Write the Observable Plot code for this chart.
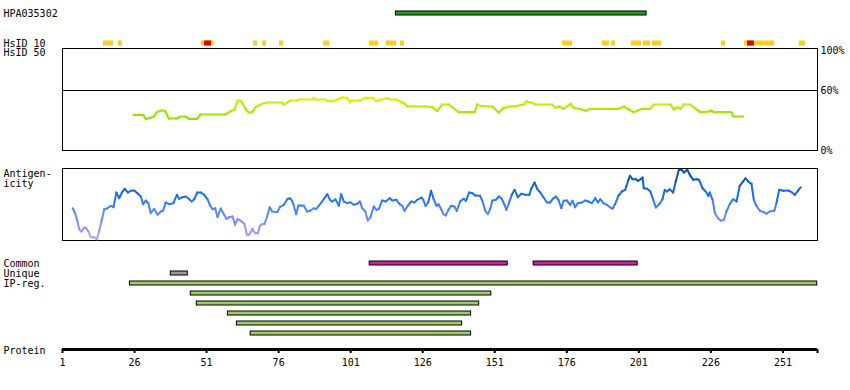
<!DOCTYPE html>
<html>
<head>
<meta charset="utf-8">
<script src="https://cdn.jsdelivr.net/npm/d3@7"></script>
<script src="https://cdn.jsdelivr.net/npm/@observablehq/plot@0.6"></script>
<style>
  body { margin: 0; background: #fff; }
  #chart { position: relative; width: 850px; height: 390px; background: #fff; font-family: "DejaVu Sans Mono", monospace; }
  #chart > div { position: absolute; left: 0; }
  #chart svg { display: block; }
</style>
</head>
<body>
<div id="chart"></div>
<script>
// ---------------- data ----------------
const proteinLength = 263;
const axisTicks = [1, 26, 51, 76, 101, 126, 151, 176, 201, 226, 251, 263];
const axisLabels = [1, 26, 51, 76, 101, 126, 151, 176, 201, 226, 251];

const antigenName = "HPA035302";
const antigenRange = [116.7, 203.7];

// HsID 10 identity hits (yellow) and strongest hits (red)
const hsid10Start = [15.2, 20.4, 49.2, 67.3, 70.4, 76.3, 91.6, 107.5, 113.4, 118.3, 174.5, 188.4, 191.5, 198.4, 202.6, 205.7, 229.7, 237.7, 256.7];
const hsid10End   = [18.7, 21.8, 53.6, 68.7, 71.8, 77.7, 93.7, 110.7, 116.9, 119.7, 178.0, 190.8, 192.9, 201.9, 205.0, 208.9, 231.1, 248.1, 258.8];
const hsid10RedStart = [50.3, 238.7];
const hsid10RedEnd   = [52.7, 241.1];

// HsID 50 identity curve (%)
const identityPos = [25.6, 29.0, 30.0, 32.7, 33.9, 35.4, 36.7, 37.9, 40.8, 41.9, 43.7, 44.8, 47.7, 48.9, 57.6, 59.3, 60.7, 61.8, 63.0, 64.5, 65.6, 66.8, 68.0, 70.3, 72.0, 77.2, 77.8, 79.0, 80.1, 82.4, 83.0, 87.6, 88.2, 88.8, 92.3, 92.9, 95.1, 96.3, 98.1, 99.8, 100.7, 101.5, 104.4, 106.1, 108.8, 109.9, 111.4, 113.7, 114.8, 116.6, 117.7, 119.4, 120.8, 127.0, 129.3, 131.0, 132.8, 135.1, 138.5, 144.1, 144.9, 146.6, 150.1, 152.4, 154.1, 156.5, 158.2, 161.1, 162.0, 164.0, 165.1, 170.9, 172.1, 173.2, 175.0, 177.3, 178.4, 181.3, 182.5, 184.2, 194.0, 195.8, 197.5, 199.2, 202.2, 205.0, 206.2, 212.0, 213.2, 214.3, 215.5, 216.6, 218.9, 220.7, 222.4, 225.3, 226.2, 227.0, 233.1, 233.9, 237.2];
const identityPct = [35.7, 35.7, 31.3, 34, 38.7, 40, 39.3, 32, 32, 34, 34, 31.7, 31.7, 36, 36, 39.3, 40.7, 50, 49.3, 41.7, 38, 38.3, 43.3, 46.7, 48, 48, 46, 48, 50, 50, 51, 51, 52.7, 51, 51, 49.3, 49.3, 51, 53, 52.7, 48.3, 50, 50, 52.7, 52.7, 49.3, 51, 52.3, 51, 51, 49.7, 47.3, 44, 44, 43.3, 39.3, 46, 46, 38.3, 38.3, 46, 44.3, 44, 37.7, 42.7, 44, 44.3, 46, 49.3, 47.7, 46, 46, 42.7, 44, 41.7, 46.7, 42.7, 41, 39.7, 41.7, 41.7, 44, 41, 38.3, 41.7, 41.7, 46, 46, 41, 43.3, 41.7, 46, 46, 41.7, 38.3, 39, 40, 38.3, 38.3, 34, 34];

// Antigenicity profile (arbitrary units)
const antigenPos = [4.5, 5.4, 6.2, 6.8, 7.6, 8.5, 9.3, 10.0, 10.8, 12.0, 12.9, 13.7, 14.5, 15.5, 16.6, 17.8, 18.7, 19.7, 20.7, 21.6, 22.6, 23.7, 24.7, 25.9, 27.0, 28.2, 29.0, 29.9, 30.8, 31.6, 32.8, 34.0, 35.1, 35.9, 36.8, 38.0, 39.5, 40.7, 41.5, 42.6, 43.8, 45.0, 45.8, 46.7, 47.8, 49.0, 50.2, 51.3, 52.3, 53.1, 54.0, 54.8, 55.9, 57.1, 57.9, 58.8, 60.0, 60.9, 61.7, 62.9, 64.1, 65.0, 65.8, 66.9, 67.2, 68.0, 68.8, 69.5, 70.3, 71.1, 72.0, 72.9, 73.8, 75.5, 76.4, 77.8, 79.0, 79.9, 80.7, 81.3, 82.1, 82.8, 83.6, 84.7, 85.9, 87.1, 88.2, 89.0, 89.9, 91.1, 91.9, 92.9, 93.8, 94.6, 95.7, 96.9, 97.7, 98.6, 99.8, 100.9, 102.1, 103.3, 104.2, 105.0, 106.1, 106.9, 107.9, 109.0, 110.0, 110.8, 111.9, 113.1, 114.6, 115.4, 116.9, 118.0, 118.9, 119.7, 120.8, 122.0, 123.1, 124.1, 125.5, 126.2, 127.0, 127.9, 128.9, 129.8, 130.8, 131.5, 132.4, 133.2, 134.0, 134.9, 135.9, 137.0, 137.8, 139.0, 140.2, 141.0, 142.1, 143.3, 144.2, 145.9, 146.7, 147.7, 148.6, 149.4, 150.2, 151.4, 152.5, 153.4, 154.4, 155.0, 156.0, 156.9, 157.9, 159.0, 160.2, 161.6, 163.0, 163.6, 164.8, 165.8, 166.8, 167.9, 169.1, 170.2, 171.4, 172.2, 173.1, 174.1, 174.9, 176.0, 177.2, 178.0, 178.9, 179.8, 181.2, 182.4, 183.5, 184.7, 185.9, 186.8, 187.6, 188.7, 189.9, 191.1, 191.9, 192.8, 193.9, 195.1, 196.3, 196.7, 197.4, 197.9, 198.8, 199.9, 200.8, 201.6, 202.3, 202.7, 203.9, 205.0, 206.0, 206.9, 208.1, 209.2, 210.0, 210.8, 211.7, 212.9, 213.8, 214.9, 215.8, 216.7, 217.8, 218.9, 219.9, 221.0, 221.9, 223.1, 224.2, 225.1, 225.6, 226.6, 227.4, 228.5, 229.4, 230.5, 231.4, 232.6, 233.7, 234.9, 236.0, 237.2, 238.0, 238.9, 240.1, 240.9, 241.8, 243.0, 244.4, 245.3, 246.4, 248.0, 248.8, 249.7, 251.1, 252.8, 254.0, 255.1, 256.3, 257.2];
const antigenScore = [32.3, 27.3, 19, 11.3, 9, 13, 12, 9, 3.3, 3.3, 1.3, 9, 19, 31.3, 32.3, 34.7, 33.3, 48, 42.3, 48, 51.7, 48, 49.7, 50, 47.3, 44, 36.3, 40, 37.3, 27.3, 31.7, 25.7, 29, 29.7, 38, 36.3, 37.3, 45.7, 41.7, 43.3, 44, 41.3, 39, 41.3, 48, 48, 45.7, 41.3, 34.7, 31.3, 32.3, 23.3, 32, 25.7, 21.7, 23.3, 24, 15.7, 21.3, 19.7, 16.7, 5.7, 5.7, 11.7, 9.7, 7.3, 7.3, 14.7, 16.3, 16.7, 24, 33.3, 29, 28.3, 33.3, 35.7, 41.3, 42.3, 39.7, 34.7, 26.3, 34.7, 35, 34.7, 29, 30, 32.3, 31.3, 34.7, 39, 42.3, 46.3, 40.7, 39, 41.3, 34.7, 46.3, 39, 37.3, 38.3, 35.7, 36.7, 39, 32.3, 29, 20, 23.3, 34, 30.7, 31.7, 40, 39, 42.3, 40, 40.7, 36.3, 34.7, 29.7, 34.7, 39, 38, 40.7, 43, 40.7, 34.7, 38, 49.7, 41.3, 34.7, 36.3, 31.3, 26.3, 25, 30.7, 34.7, 34, 29.7, 39, 41.7, 39.7, 48, 47.3, 45, 44.7, 39.7, 29.7, 26.3, 31.3, 40, 40.7, 44, 41.7, 35.7, 30.7, 38, 45.7, 50.7, 43.3, 46.7, 45.7, 45.7, 51.3, 58, 51.3, 48, 43.3, 38, 38, 42.3, 44, 40.7, 32.3, 39.7, 40, 35.7, 39.7, 33.3, 37.3, 38, 40, 39, 37.3, 42.3, 38, 41.3, 37.3, 35.7, 33, 31.7, 36.7, 44.7, 49, 50.7, 54.7, 60.7, 64.7, 61.3, 61.3, 59.7, 61.3, 63, 52.3, 51.7, 49, 40.7, 33, 36.3, 41.3, 50.7, 49, 51.3, 48, 59, 70.7, 70.7, 68, 70.7, 64.7, 60.7, 61.3, 60.7, 52.3, 49, 44.7, 48, 40.7, 27.3, 22.3, 19.7, 20.7, 29, 36.7, 41.3, 39, 54.7, 59, 62.3, 59, 56.7, 40.7, 34.7, 29.7, 28.3, 26.7, 29, 29.7, 38, 50.7, 49.7, 50, 48.3, 45.7, 50, 53.3];

// Feature tracks
const featureRows  = ["Common", "Unique", "IP-reg.", "IP-reg. 2", "IP-reg. 3", "IP-reg. 4", "IP-reg. 5", "IP-reg. 6"];
const rowLabels    = ["Common", "Unique", "IP-reg."];
const commonStart  = [107.6, 164.5];
const commonEnd    = [155.5, 200.6];
const uniqueStart  = [38.6];
const uniqueEnd    = [44.5];
const ipRegStart   = [24.4, 45.5, 47.6, 58.4, 61.5, 66.3];
const ipRegEnd     = [262.9, 149.8, 145.6, 142.8, 139.7, 142.8];

// ---------------- helpers ----------------
const FONT = "DejaVu Sans Mono";
const base = {
  width: 850,
  marginLeft: 62,
  marginRight: 33,
  style: { fontFamily: FONT, fontSize: "10px", color: "black", background: "transparent", overflow: "visible" }
};
const xScale = { domain: [1, proteinLength], axis: null, label: null };

function segments(pos, val) {
  const out = [];
  for (let i = 1; i < pos.length; i++) {
    out.push({ x1: pos[i - 1], y1: val[i - 1], x2: pos[i], y2: val[i], v: (val[i - 1] + val[i]) / 2 });
  }
  return out;
}
function ranges(starts, ends, track) {
  return starts.map((s, i) => ({ start: s, end: ends[i], track: typeof track === "function" ? track(i) : track }));
}

const chart = document.getElementById("chart");
function place(svg, top) {
  const d = document.createElement("div");
  d.style.top = top + "px";
  d.appendChild(svg);
  chart.appendChild(d);
}

// ---------------- top tracks ----------------
place(Plot.plot({
  ...base,
  height: 48, marginTop: 0, marginBottom: 0,
  x: xScale,
  y: { type: "band", domain: [antigenName, "gap1", "gap2", "HsID 10"], range: [7.5, 47.5], padding: 0, axis: null },
  marks: [
    Plot.barX(ranges([antigenRange[0]], [antigenRange[1]], antigenName), { x1: "start", x2: "end", y: "track", fill: "#1f9e1f", stroke: "black", strokeWidth: 1, insetTop: 3, insetBottom: 3 }),
    Plot.barX(ranges(hsid10Start, hsid10End, "HsID 10"), { x1: "start", x2: "end", y: "track", fill: "#ffcc22", insetTop: 2.5, insetBottom: 2.5 }),
    Plot.barX(ranges(hsid10RedStart, hsid10RedEnd, "HsID 10"), { x1: "start", x2: "end", y: "track", fill: "#dd0000", insetTop: 2.5, insetBottom: 2.5 }),
    Plot.text([antigenName, "HsID 10"], { y: d => d, text: d => d, frameAnchor: "left", textAnchor: "start", lineAnchor: "middle", dx: -59, fill: "black" })
  ]
}), 0);

// ---------------- identity panel ----------------
place(Plot.plot({
  ...base,
  height: 120, marginTop: 8, marginBottom: 10,
  x: xScale,
  y: { domain: [0, 102], label: null, axis: null },
  color: { type: "linear", domain: [30, 45, 55], range: ["#8ae000", "#b6f000", "#f2f000"] },
  marks: [
    Plot.frame({ stroke: "black" }),
    Plot.ruleY([60], { stroke: "black" }),
    Plot.link(segments(identityPos, identityPct), { x1: "x1", y1: "y1", x2: "x2", y2: "y2", stroke: "v", strokeWidth: 2.2, strokeLinecap: "round" }),
    Plot.axisY({ anchor: "right", ticks: [0, 60, 100], tickSize: 0, tickPadding: 3, tickFormat: d => d + "%", label: null, fill: "black" }),
    Plot.text(["HsID 50"], { text: d => d, frameAnchor: "top-left", textAnchor: "start", lineAnchor: "middle", dx: -59, dy: 4.5, fill: "black" })
  ]
}), 40);

// ---------------- antigenicity panel ----------------
place(Plot.plot({
  ...base,
  height: 90, marginTop: 8, marginBottom: 10,
  x: xScale,
  y: { domain: [0, 72], label: null, axis: null },
  color: { type: "linear", domain: [0, 15, 30, 45, 60, 72], range: ["#b2a8ff", "#8f90ff", "#4d88ff", "#1b6ef0", "#085ccc", "#004c9c"] },
  marks: [
    Plot.frame({ stroke: "black" }),
    Plot.link(segments(antigenPos, antigenScore), { x1: "x1", y1: "y1", x2: "x2", y2: "y2", stroke: "v", strokeWidth: 2, strokeLinecap: "round" }),
    Plot.text(["Antigen-\nicity"], { text: d => d, frameAnchor: "top-left", textAnchor: "start", lineAnchor: "top", dx: -59, dy: 1, fill: "black" })
  ]
}), 160);

// ---------------- feature tracks ----------------
place(Plot.plot({
  ...base,
  height: 90, marginTop: 0, marginBottom: 0,
  x: xScale,
  y: { type: "band", domain: featureRows, range: [7.5, 87.5], padding: 0, axis: null },
  marks: [
    Plot.barX(ranges(commonStart, commonEnd, "Common"), { x1: "start", x2: "end", y: "track", fill: "#cc22a0", stroke: "black", insetTop: 3, insetBottom: 3 }),
    Plot.barX(ranges(uniqueStart, uniqueEnd, "Unique"), { x1: "start", x2: "end", y: "track", fill: "#999999", stroke: "black", insetTop: 3, insetBottom: 3 }),
    Plot.barX(ranges(ipRegStart, ipRegEnd, i => featureRows[2 + i]), { x1: "start", x2: "end", y: "track", fill: "#9ccc66", stroke: "black", insetTop: 3, insetBottom: 3 }),
    Plot.text(rowLabels, { y: d => d, text: d => d, frameAnchor: "left", textAnchor: "start", lineAnchor: "middle", dx: -59, fill: "black" })
  ]
}), 250);

// ---------------- protein axis ----------------
place(Plot.plot({
  ...base,
  height: 50, marginTop: 0, marginBottom: 41,
  x: { domain: [1, proteinLength], label: null },
  y: { domain: [0, 1], axis: null, label: null },
  marks: [
    Plot.ruleY([0], { stroke: "black", strokeWidth: 3 }),
    Plot.axisX({ ticks: axisTicks, tickSize: 4, tickPadding: 5, strokeWidth: 2, label: null, fill: "black",
                 tickFormat: d => axisLabels.includes(d) ? String(d) : "" }),
    Plot.text(["Protein"], { text: d => d, frameAnchor: "bottom-left", textAnchor: "start", lineAnchor: "middle", dx: -59, dy: 1, fill: "black" })
  ]
}), 340);
</script>
</body>
</html>
